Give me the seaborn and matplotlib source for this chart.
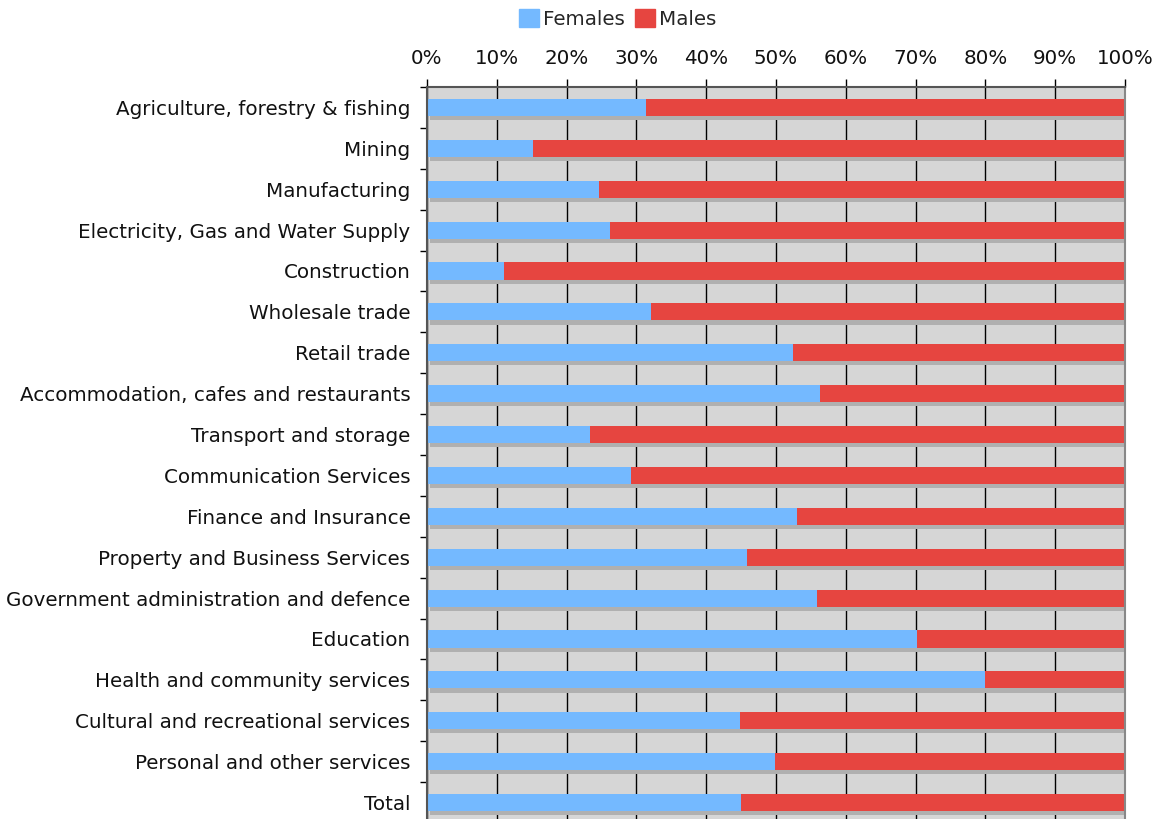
import pandas as pd
import matplotlib
matplotlib.use("Agg")
import matplotlib.pyplot as plt
import matplotlib.patheffects as pe
from matplotlib.patches import Patch
import seaborn as sns

# Data (percent of employed persons by sex)
industries = [
    "Agriculture, forestry & fishing",
    "Mining",
    "Manufacturing",
    "Electricity, Gas and Water Supply",
    "Construction",
    "Wholesale trade",
    "Retail trade",
    "Accommodation, cafes and restaurants",
    "Transport and storage",
    "Communication Services",
    "Finance and Insurance",
    "Property and Business Services",
    "Government administration and defence",
    "Education",
    "Health and community services",
    "Cultural and recreational services",
    "Personal and other services",
    "Total",
]
females = [31.4, 15.2, 24.6, 26.2, 11.0, 32.1, 52.4, 56.3, 23.4, 29.2,
           53.0, 45.8, 55.9, 70.2, 79.9, 44.8, 49.9, 45.0]
males = [68.6, 84.8, 75.4, 73.8, 89.0, 67.9, 47.6, 43.7, 76.6, 70.8,
         47.0, 54.2, 44.1, 29.8, 20.1, 55.2, 50.1, 55.0]
x_ticks = [0, 10, 20, 30, 40, 50, 60, 70, 80, 90, 100]
x_ticklabels = ["0%", "10%", "20%", "30%", "40%", "50%", "60%", "70%", "80%", "90%", "100%"]

df = pd.DataFrame({"Industry": industries, "Females": females, "Males": males})
df["Total"] = df["Females"] + df["Males"]

blue = "#74b9ff"
red = "#e64540"
fs = 14.3

sns.set_theme(style="white")
plt.rcParams["font.family"] = ["DejaVu Sans"]

fig = plt.figure(figsize=(11.63, 8.19), dpi=100)
# plot area runs a little past the bottom edge, like the original
ax = fig.add_axes([427 / 1163, -4 / 819, 698 / 1163, (819 - 87 + 4) / 819])
ax.set_facecolor("#d6d6d6")

# stacked: full bar in red, female part on top in blue
sns.barplot(data=df, y="Industry", x="Total", color=red, saturation=1,
            width=0.42, linewidth=0, edgecolor="none", ax=ax)
n = len(ax.patches)
sns.barplot(data=df, y="Industry", x="Females", color=blue, saturation=1,
            width=0.42, linewidth=0, edgecolor="none", ax=ax)

shadow = [pe.SimplePatchShadow(offset=(2.2, -2.9), shadow_rgbFace="#b0b0b0", alpha=1.0), pe.Normal()]
for bar in ax.patches[:n]:
    bar.set_path_effects(shadow)

ax.set_xlim(0, 100)
ax.set_ylim(len(industries) - 0.5, -0.5)
ax.set_axisbelow(True)

ax.xaxis.tick_top()
ax.set_xticks(x_ticks)
ax.set_xticklabels(x_ticklabels)
ax.grid(axis="x", color="black", linewidth=1)
ax.grid(axis="y", visible=False)
ax.tick_params(axis="x", which="major", top=True, bottom=False, length=6, width=1,
               color="black", pad=8, labelsize=fs, labelcolor="#111111", direction="out")

ax.set_yticks(range(len(industries)))
ax.set_yticks([i - 0.5 for i in range(len(industries) + 1)], minor=True)
ax.tick_params(axis="y", which="major", left=True, length=0, pad=12, labelsize=fs, labelcolor="#111111")
ax.tick_params(axis="y", which="minor", left=True, length=5, width=1, color="black", direction="out")

ax.set_xlabel("")
ax.set_ylabel("")
for side in ["top", "left"]:
    ax.spines[side].set_color("#555555")
    ax.spines[side].set_linewidth(1.5)
ax.spines["right"].set_color("#888888")
ax.spines["right"].set_linewidth(1.5)
ax.spines["bottom"].set_visible(False)

fig.legend(handles=[Patch(color=blue, label="Females"), Patch(color=red, label="Males")],
           loc="center", bbox_to_anchor=(0.531, 0.977), ncol=2, frameon=False,
           handlelength=1.0, handleheight=1.0, handletextpad=0.2, columnspacing=0.5,
           fontsize=fs, borderaxespad=0)

fig.savefig("out.png", dpi=100)
